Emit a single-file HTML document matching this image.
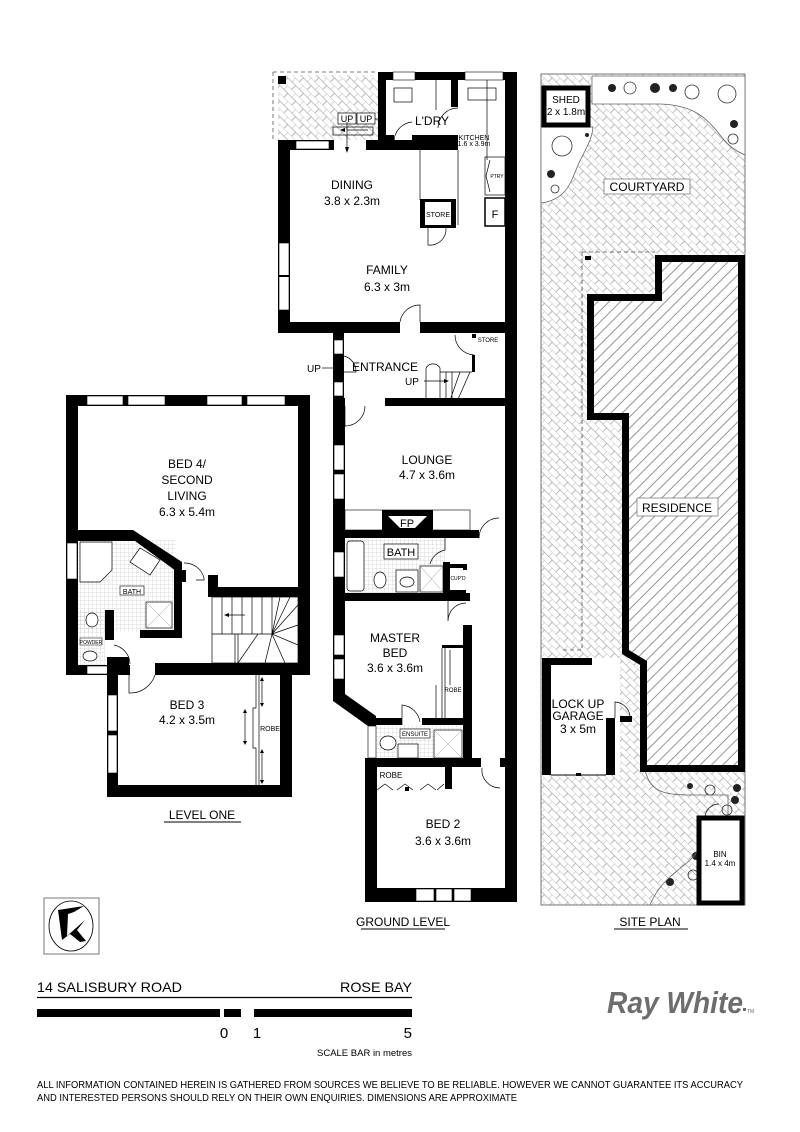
<!DOCTYPE html>
<html><head><meta charset="utf-8"><style>
html,body{margin:0;padding:0;background:#fff;}
svg{display:block;}
text{font-family:"Liberation Sans",Arial,sans-serif;fill:#000;}
.w{fill:#000;}
.win{fill:#fff;stroke:#000;stroke-width:0.6;}
.ln{fill:none;stroke:#000;stroke-width:0.7;}
.lbl{font-size:12px;text-anchor:middle;}
.sm{font-size:7px;text-anchor:middle;}
</style></head><body>
<svg width="800" height="1132" viewBox="0 0 800 1132" xmlns="http://www.w3.org/2000/svg">
<defs>
<pattern id="brick" width="11" height="11" patternUnits="userSpaceOnUse" patternTransform="rotate(45)">
<path d="M0 0H11M0 5.5H11M0 0V5.5M5.5 5.5V11" stroke="#8a8a8a" stroke-width="0.6" fill="none"/>
</pattern>
<pattern id="diag" width="8" height="8" patternUnits="userSpaceOnUse" patternTransform="rotate(-45)">
<path d="M0 4H8" stroke="#666" stroke-width="0.7"/>
</pattern>
<pattern id="tile" width="4" height="4" patternUnits="userSpaceOnUse">
<path d="M0 0H4M0 0V4" stroke="#aaa" stroke-width="0.4"/>
</pattern>
</defs>

<!-- ================= SITE PLAN ================= -->
<rect x="541" y="74" width="204" height="831" fill="url(#brick)" stroke="#777" stroke-width="1"/>
<path d="M592 76 H745 V155 C738 152 730 148 720 135 C705 115 690 105 660 104 H592 Z" fill="#fff" stroke="#666" stroke-width="0.8"/>
<path d="M541 127 H593 C592 140 585 150 578 165 C570 185 565 200 541 203 Z" fill="#fff" stroke="#666" stroke-width="0.8"/>
<g fill="none" stroke="#333" stroke-width="0.8">
<circle cx="630" cy="88" r="6"/><circle cx="692" cy="92" r="7"/><circle cx="727" cy="94" r="9"/>
<circle cx="733" cy="139" r="5"/><circle cx="562" cy="146" r="10"/><circle cx="555" cy="189" r="4"/>
<circle cx="710" cy="790" r="5"/><circle cx="727" cy="810" r="5"/><circle cx="693" cy="875" r="5"/><circle cx="716" cy="880" r="10"/>
</g>
<g fill="#222">
<circle cx="655" cy="88" r="5"/><circle cx="612" cy="88" r="4"/><circle cx="673" cy="88" r="4"/><circle cx="734" cy="124" r="4"/><circle cx="551" cy="174" r="4"/><circle cx="587" cy="135" r="2"/>
<circle cx="690" cy="786" r="3"/><circle cx="737" cy="788" r="4"/><circle cx="735" cy="800" r="4"/><circle cx="670" cy="882" r="4"/><circle cx="696" cy="856" r="4"/>
</g>
<path d="M645 770 C650 790 660 795 690 795 H728 V815" fill="none" stroke="#666" stroke-width="0.8"/>
<path d="M650 905 C660 880 680 870 690 860 C695 855 700 850 697 848" fill="none" stroke="#666" stroke-width="0.8"/>
<rect x="544" y="88" width="44" height="37" fill="#fff" stroke="#000" stroke-width="5"/>
<text x="566" y="103" font-size="10" text-anchor="middle">SHED</text>
<text x="566" y="115" font-size="10" text-anchor="middle">2 x 1.8m</text>
<rect x="604" y="179" width="86" height="15" fill="#fff" stroke="#555" stroke-width="0.6"/>
<text x="647" y="191" class="lbl">COURTYARD</text>
<path d="M582 252 H655 M582 252 V650 H560" fill="none" stroke="#555" stroke-width="0.8" stroke-dasharray="4,3"/>
<rect x="585" y="256" width="6" height="4" fill="#000"/>
<path d="M658.5 258.5 H741.5 V768.5 H643.5 V663 L625.5 652 V416.5 H590.5 V297.5 H658.5 Z" fill="#fff"/>
<path d="M658.5 258.5 H741.5 V768.5 H643.5 V663 L625.5 652 V416.5 H590.5 V297.5 H658.5 Z" fill="url(#diag)" stroke="#000" stroke-width="7"/>
<rect x="637" y="498" width="81" height="18" fill="#fff" stroke="#555" stroke-width="0.6"/>
<text x="677" y="512" class="lbl">RESIDENCE</text>
<rect x="542" y="658" width="78" height="117" fill="#fff"/>
<rect x="542" y="658" width="9" height="117" class="w"/>
<rect x="542" y="658" width="50" height="7" class="w"/>
<rect x="606" y="718" width="9" height="57" class="w"/>
<rect x="620" y="716" width="12" height="6" class="w"/>
<path d="M615 718 V702 A16 16 0 0 1 630 716" class="ln"/>
<line x1="551" y1="775" x2="606" y2="775" stroke="#000" stroke-width="1"/>
<rect x="576" y="773" width="5" height="3" class="w"/>
<text x="578" y="708" class="lbl" font-size="11">LOCK UP</text>
<text x="578" y="720" class="lbl" font-size="11">GARAGE</text>
<text x="578" y="733" class="lbl" font-size="11">3 x 5m</text>
<rect x="699" y="818" width="43" height="85" fill="#fff" stroke="#000" stroke-width="5"/>
<path d="M705 818 A14 14 0 0 1 719 804" class="ln"/>
<text x="720" y="857" font-size="8" text-anchor="middle">BIN</text>
<text x="720" y="866" font-size="8" text-anchor="middle">1.4 x 4m</text>
<text x="650" y="926" class="lbl" font-size="13">SITE PLAN</text>
<line x1="614" y1="929" x2="688" y2="929" stroke="#000" stroke-width="1"/>

<!-- ================= GROUND LEVEL ================= -->
<rect x="278" y="75" width="100" height="65" fill="url(#brick)"/>
<path d="M273 72 H378 M273 72 V140" fill="none" stroke="#555" stroke-width="0.8" stroke-dasharray="4,3"/>
<rect x="278" y="76" width="8" height="8" class="w"/>
<rect x="378" y="72" width="139" height="8" class="w"/>
<rect x="393" y="72" width="22" height="8" class="win"/>
<rect x="465" y="72" width="38" height="8" class="win"/>
<rect x="378" y="72" width="8" height="70" class="w"/>
<rect x="451" y="72" width="7" height="35" class="w"/>
<rect x="386" y="135" width="8" height="7" class="w"/>
<rect x="412" y="135" width="46" height="7" class="w"/>
<path d="M394 142 A20 20 0 0 1 412 122" class="ln"/>
<path d="M458 108 A20 20 0 0 0 438 128" class="ln"/>
<rect x="394" y="88" width="18" height="14" class="ln"/>
<rect x="468" y="88" width="28" height="12" class="ln"/>
<line x1="436" y1="80" x2="436" y2="110" class="ln"/>
<text x="432" y="125" class="lbl" font-size="13">L'DRY</text>
<text x="474" y="140" class="sm" font-size="5">KITCHEN</text>
<text x="474" y="146" class="sm" font-size="5">1.6 x 3.9m</text>
<rect x="338" y="113" width="18" height="11" fill="#fff" stroke="#000" stroke-width="0.7"/>
<rect x="357" y="113" width="18" height="11" fill="#fff" stroke="#000" stroke-width="0.7"/>
<text x="347" y="122" font-size="9" text-anchor="middle">UP</text>
<text x="366" y="122" font-size="9" text-anchor="middle">UP</text>
<path d="M375 119 H384" class="ln"/><path d="M384 119 l-4 -2 v4z"/>
<rect x="333" y="127" width="40" height="8" class="ln"/>
<path d="M347 130 H368" class="ln"/><path d="M340 130 l5 -2 v4z"/>
<path d="M347 122 V150" class="ln"/><path d="M347 153 l-2 -6 h4z"/>
<rect x="278" y="140" width="12" height="193" class="w"/>
<rect x="278" y="140" width="56" height="10" class="w"/>
<rect x="296" y="141" width="33" height="8" class="win"/>
<rect x="366" y="140" width="92" height="10" class="w"/>
<rect x="279" y="243" width="10" height="67" class="win"/>
<line x1="278" y1="276" x2="290" y2="276" stroke="#000" stroke-width="2"/>
<line x1="420" y1="150" x2="420" y2="200" class="ln"/>
<line x1="458" y1="150" x2="458" y2="225" class="ln"/>
<rect x="420" y="199" width="36" height="29" class="w"/>
<rect x="425" y="202" width="26" height="23" fill="#fff"/>
<text x="438" y="217" font-size="7" text-anchor="middle">STORE</text>
<path d="M428 228 V245 A16 16 0 0 0 446 228" class="ln"/>
<line x1="487" y1="80" x2="487" y2="160" class="ln"/>
<rect x="485" y="157" width="20" height="38" class="ln"/>
<path d="M490 160 L486 176 L490 192" class="ln"/>
<text x="497" y="178" font-size="5" text-anchor="middle">PTRY</text>
<rect x="485" y="198" width="20" height="28" fill="#fff" stroke="#000" stroke-width="1.5"/>
<text x="495" y="218" font-size="11" text-anchor="middle">F</text>
<text x="352" y="189" class="lbl">DINING</text>
<text x="352" y="205" class="lbl">3.8 x 2.3m</text>
<text x="387" y="274" class="lbl">FAMILY</text>
<text x="387" y="291" class="lbl">6.3 x 3m</text>
<rect x="278" y="322" width="122" height="11" class="w"/>
<rect x="420" y="322" width="97" height="11" class="w"/>
<path d="M400 322 A20 20 0 0 1 420 305 V322" class="ln"/>
<rect x="505" y="72" width="12" height="830" class="w"/>
<rect x="333" y="333" width="11" height="73" class="w"/>
<rect x="334" y="340" width="9" height="14" class="win"/>
<rect x="334" y="382" width="9" height="14" class="win"/>
<path d="M344 356 A16 16 0 0 1 356 372 H344" class="ln"/>
<text x="314" y="372" font-size="10" text-anchor="middle">UP</text>
<path d="M322 368 H338" class="ln"/><path d="M341 368 l-5 -2 v4z"/>
<text x="385" y="371" class="lbl" font-size="11">ENTRANCE</text>
<text x="412" y="385" font-size="10" text-anchor="middle">UP</text>
<path d="M424 381 H446" class="ln"/><path d="M449 381 l-5 -2 v4z"/>
<path d="M426 406 V368 A8 8 0 0 1 440 368 V406 M440 372 H472 M446 372 V406 M452 372 L452 406 M460 372 L448 406 M470 372 L455 406" class="ln"/>
<rect x="472" y="334" width="4" height="4" class="w"/><rect x="472" y="355" width="3" height="17" class="w"/>
<path d="M455 335 A20 20 0 0 0 474 355" class="ln"/>
<text x="488" y="342" font-size="6" text-anchor="middle">STORE</text>
<rect x="333" y="398" width="12" height="8" class="w"/>
<rect x="385" y="398" width="132" height="8" class="w"/>
<path d="M345 406 V426 A20 20 0 0 0 365 406" class="ln"/>
<rect x="333" y="406" width="12" height="196" class="w"/>
<rect x="334" y="445" width="10" height="25" class="win"/>
<rect x="334" y="474" width="10" height="25" class="win"/>
<text x="427" y="464" class="lbl">LOUNGE</text>
<text x="427" y="479" class="lbl">4.7 x 3.6m</text>
<rect x="345" y="510" width="125" height="20" fill="#fff" stroke="#000" stroke-width="0.6"/>
<path d="M382 510 H433 V530 H382Z" class="w"/>
<path d="M388 516 H427 L415 528 H400Z" fill="#fff"/>
<text x="407" y="527" font-size="11" text-anchor="middle">FP</text>
<rect x="333" y="530" width="146" height="8" class="w"/>
<path d="M479 538 A20 20 0 0 1 499 518" class="ln"/>
<rect x="345" y="538" width="100" height="55" fill="url(#tile)"/>
<rect x="334" y="552" width="10" height="25" class="win"/>
<rect x="347" y="541" width="17" height="50" rx="3" fill="#fff" stroke="#000" stroke-width="0.7"/>
<rect x="384" y="544" width="34" height="15" fill="#fff" stroke="#000" stroke-width="0.7"/>
<text x="401" y="556" font-size="11" text-anchor="middle">BATH</text>
<ellipse cx="380" cy="580" rx="6" ry="8" fill="#fff" stroke="#000" stroke-width="0.7"/>
<rect x="396" y="570" width="22" height="22" fill="#fff" stroke="#000" stroke-width="0.7"/>
<ellipse cx="407" cy="582" rx="7" ry="5" class="ln"/>
<rect x="420" y="566" width="23" height="26" fill="#fff" stroke="#000" stroke-width="0.7"/>
<path d="M420 566 L443 592 M443 566 L420 592" stroke="#999" stroke-width="0.5"/>
<path d="M445 538 V550 A20 20 0 0 0 430 564" class="ln"/>
<rect x="443" y="562" width="7" height="32" class="w"/>
<rect x="450" y="564" width="16" height="4" class="w"/><rect x="450" y="590" width="16" height="4" class="w"/>
<rect x="463" y="564" width="4" height="6" class="w"/>
<text x="458" y="580" font-size="5" text-anchor="middle">CUP'D</text>
<rect x="333" y="593" width="137" height="8" class="w"/>
<path d="M448 601 V621 A18 18 0 0 1 466 603" class="ln"/>
<rect x="463" y="625" width="9" height="98" class="w"/>
<path d="M333 601 H345 V694 L376 716 V726 H368 L333 701Z" class="w"/>
<rect x="334" y="635" width="10" height="20" class="win"/>
<rect x="334" y="659" width="10" height="20" class="win"/>
<text x="395" y="642" class="lbl">MASTER</text>
<text x="395" y="657" class="lbl">BED</text>
<text x="395" y="672" class="lbl">3.6 x 3.6m</text>
<rect x="442" y="645" width="21" height="3" class="w"/>
<path d="M442 648 V720 M445 648 V720" class="ln"/>
<path d="M450 650 V685 M436 685 V718" class="ln"/>
<text x="453" y="692" font-size="6" text-anchor="middle">ROBE</text>
<rect x="376" y="718" width="26" height="7" class="w"/>
<rect x="422" y="718" width="50" height="7" class="w"/>
<path d="M402 725 V705 A20 20 0 0 1 420 722" class="ln"/>
<rect x="376" y="725" width="87" height="33" fill="url(#tile)"/>
<rect x="368" y="726" width="8" height="32" class="win"/>
<ellipse cx="388" cy="743" rx="8" ry="7" fill="#fff" stroke="#000" stroke-width="0.7"/>
<rect x="398" y="744" width="20" height="14" fill="#fff" stroke="#000" stroke-width="0.7"/>
<rect x="400" y="729" width="30" height="9" fill="#fff" stroke="#000" stroke-width="0.6"/>
<text x="415" y="736" font-size="6" text-anchor="middle">ENSUITE</text>
<rect x="434" y="730" width="28" height="28" fill="#fff" stroke="#000" stroke-width="0.7"/>
<path d="M434 730 L462 758 M462 730 L434 758" stroke="#999" stroke-width="0.5"/>
<rect x="463" y="722" width="9" height="40" class="w"/>
<path d="M482 768 A18 18 0 0 0 500 788" class="ln"/>
<rect x="365" y="758" width="116" height="9" class="w"/>
<rect x="500" y="758" width="10" height="9" class="w"/>
<rect x="365" y="758" width="12" height="144" class="w"/>
<rect x="445" y="767" width="7" height="22" class="w"/>
<text x="391" y="778" font-size="8" text-anchor="middle">ROBE</text>
<path d="M377 790 L385 784 L393 790 M397 790 L405 784 L413 790 M420 790 L428 784 L436 790 M437 790 L444 784" class="ln"/>
<rect x="405" y="787" width="4" height="4" class="w"/>
<text x="443" y="828" class="lbl">BED 2</text>
<text x="443" y="845" class="lbl">3.6 x 3.6m</text>
<rect x="365" y="888" width="152" height="14" class="w"/>
<rect x="416" y="889" width="18" height="12" class="win"/>
<rect x="436" y="889" width="16" height="12" class="win"/>
<rect x="454" y="889" width="17" height="12" class="win"/>
<text x="403" y="926" class="lbl" font-size="13">GROUND LEVEL</text>
<line x1="361" y1="929" x2="445" y2="929" stroke="#000" stroke-width="1"/>

<!-- ================= LEVEL ONE ================= -->
<rect x="66" y="395" width="244" height="11" class="w"/>
<rect x="87" y="396" width="36" height="9" class="win"/>
<rect x="128" y="396" width="37" height="9" class="win"/>
<rect x="207" y="396" width="35" height="9" class="win"/>
<rect x="247" y="396" width="38" height="9" class="win"/>
<rect x="66" y="395" width="12" height="280" class="w"/>
<rect x="298" y="395" width="12" height="280" class="w"/>
<text x="187" y="468" class="lbl">BED 4/</text>
<text x="187" y="484" class="lbl">SECOND</text>
<text x="187" y="500" class="lbl">LIVING</text>
<text x="187" y="516" class="lbl">6.3 x 5.4m</text>
<rect x="78" y="540" width="98" height="92" fill="url(#tile)"/>
<rect x="67" y="543" width="10" height="36" class="win"/>
<path d="M78 530 H133 L182 562 V568 L176 571 L135 541 H78Z" class="w"/>
<rect x="174" y="566" width="8" height="72" class="w"/>
<rect x="140" y="630" width="42" height="8" class="w"/>
<rect x="180" y="570" width="6" height="12" class="w"/>
<path d="M80 542 H112 V570 L100 582 H80Z" fill="#fff" stroke="#000" stroke-width="0.7"/>
<path d="M140 548 L160 560 L150 575 L130 562Z" fill="#fff" stroke="#000" stroke-width="0.7"/>
<rect x="120" y="586" width="24" height="9" fill="#fff" stroke="#000" stroke-width="0.6"/>
<text x="132" y="594" font-size="7" text-anchor="middle">BATH</text>
<rect x="146" y="602" width="26" height="26" fill="#fff" stroke="#000" stroke-width="0.7"/>
<path d="M146 602 L172 628 M172 602 L146 628" stroke="#999" stroke-width="0.5"/>
<path d="M184 563 A20 20 0 0 1 204 578 V580 H196" class="ln"/>
<rect x="208" y="575" width="10" height="22" class="w"/>
<rect x="208" y="587" width="102" height="10" class="w"/>
<g class="ln">
<rect x="212" y="597" width="86" height="66"/>
<path d="M222 597 V634 M232 597 V634 M242 597 V634 M252 597 V634 M262 597 V634 M272 597 V634"/>
<path d="M212 634 H272 M235 634 V663 M238 634 V663 L258 634 M272 634 L298 605 M272 634 L298 625 M272 634 L298 645 M272 634 L285 663 M272 634 L265 663 M280 597 L272 634 M290 597 L272 634"/>
<path d="M245 615 H228"/>
</g>
<path d="M224 615 l5 -2 v4z"/>
<rect x="78" y="610" width="27" height="55" fill="url(#tile)"/>
<rect x="105" y="610" width="9" height="30" class="w"/>
<ellipse cx="92" cy="620" rx="6" ry="7" fill="#fff" stroke="#000" stroke-width="0.7"/>
<rect x="80" y="638" width="22" height="7" fill="#fff" stroke="#000" stroke-width="0.5"/>
<text x="91" y="644" font-size="5" text-anchor="middle">POWDER</text>
<ellipse cx="90" cy="656" rx="7" ry="5" fill="#fff" stroke="#000" stroke-width="0.7"/>
<path d="M114 645 A20 20 0 0 1 130 664" class="ln"/>
<rect x="66" y="665" width="64" height="10" class="w"/>
<rect x="87" y="666" width="22" height="8" class="win"/>
<rect x="107" y="657" width="22" height="8" class="w"/>
<rect x="155" y="663" width="155" height="12" class="w"/>
<rect x="107" y="663" width="11" height="134" class="w"/>
<rect x="108" y="695" width="9" height="36" class="win"/>
<rect x="108" y="735" width="9" height="38" class="win"/>
<path d="M129 675 V693 A26 26 0 0 0 155 675" class="ln"/>
<rect x="280" y="675" width="12" height="122" class="w"/>
<rect x="107" y="785" width="185" height="12" class="w"/>
<path d="M256 675 V708 H253 V748 H256 V785 M259 675 V785" class="ln"/>
<path d="M262 680 V705 M245 712 V742 M262 752 V782" class="ln"/>
<path d="M262 677 l-2 4 h4z M262 707 l-2 -4 h4z M245 709 l-2 4 h4z M245 745 l-2 -4 h4z M262 749 l-2 4 h4z M262 784 l-2 -4 h4z"/>
<text x="270" y="731" font-size="7" text-anchor="middle">ROBE</text>
<text x="187" y="709" class="lbl">BED 3</text>
<text x="187" y="724" class="lbl">4.2 x 3.5m</text>
<text x="202" y="819" class="lbl" font-size="13">LEVEL ONE</text>
<line x1="164" y1="822" x2="241" y2="822" stroke="#000" stroke-width="1"/>

<!-- ================= FOOTER ================= -->
<rect x="44" y="898" width="55" height="56" fill="#fff" stroke="#777" stroke-width="1"/>
<ellipse cx="71" cy="926" rx="22" ry="25" fill="none" stroke="#000" stroke-width="0.8"/>
<path d="M58 910 L84 906 L74 912 L68 914 L67 936 L85 920 L77 930 L86 941 L80 942 L70 934 L62 940 Z" fill="#000"/>
<text x="37" y="992" font-size="14" textLength="145" lengthAdjust="spacingAndGlyphs">14 SALISBURY ROAD</text>
<text x="412" y="992" font-size="14" text-anchor="end" textLength="72" lengthAdjust="spacingAndGlyphs">ROSE BAY</text>
<line x1="37" y1="997.5" x2="412" y2="997.5" stroke="#000" stroke-width="1.2"/>
<rect x="37" y="1009" width="183" height="8" class="w"/>
<rect x="224" y="1009" width="17" height="8" class="w"/>
<rect x="254" y="1009" width="158" height="8" class="w"/>
<text x="224" y="1038" font-size="15" text-anchor="middle">0</text>
<text x="257" y="1038" font-size="15" text-anchor="middle">1</text>
<text x="412" y="1038" font-size="15" text-anchor="end">5</text>
<text x="412" y="1056" font-size="9" text-anchor="end" textLength="95" lengthAdjust="spacingAndGlyphs">SCALE BAR in metres</text>
<text x="607" y="1013" font-size="31" font-weight="bold" font-style="italic" style="fill:#6d6d6d" textLength="136" lengthAdjust="spacingAndGlyphs">Ray White</text>
<rect x="743" y="1008" width="3" height="3" fill="#6d6d6d"/>
<text x="747" y="1013" font-size="5" style="fill:#6d6d6d">TM</text>
<text x="37" y="1088" font-size="10" textLength="706" lengthAdjust="spacingAndGlyphs">ALL INFORMATION CONTAINED HEREIN IS GATHERED FROM SOURCES WE BELIEVE TO BE RELIABLE. HOWEVER WE CANNOT GUARANTEE ITS ACCURACY</text>
<text x="37" y="1101" font-size="10" textLength="480" lengthAdjust="spacingAndGlyphs">AND INTERESTED PERSONS SHOULD RELY ON THEIR OWN ENQUIRIES. DIMENSIONS ARE APPROXIMATE</text>
</svg>
</body></html>
